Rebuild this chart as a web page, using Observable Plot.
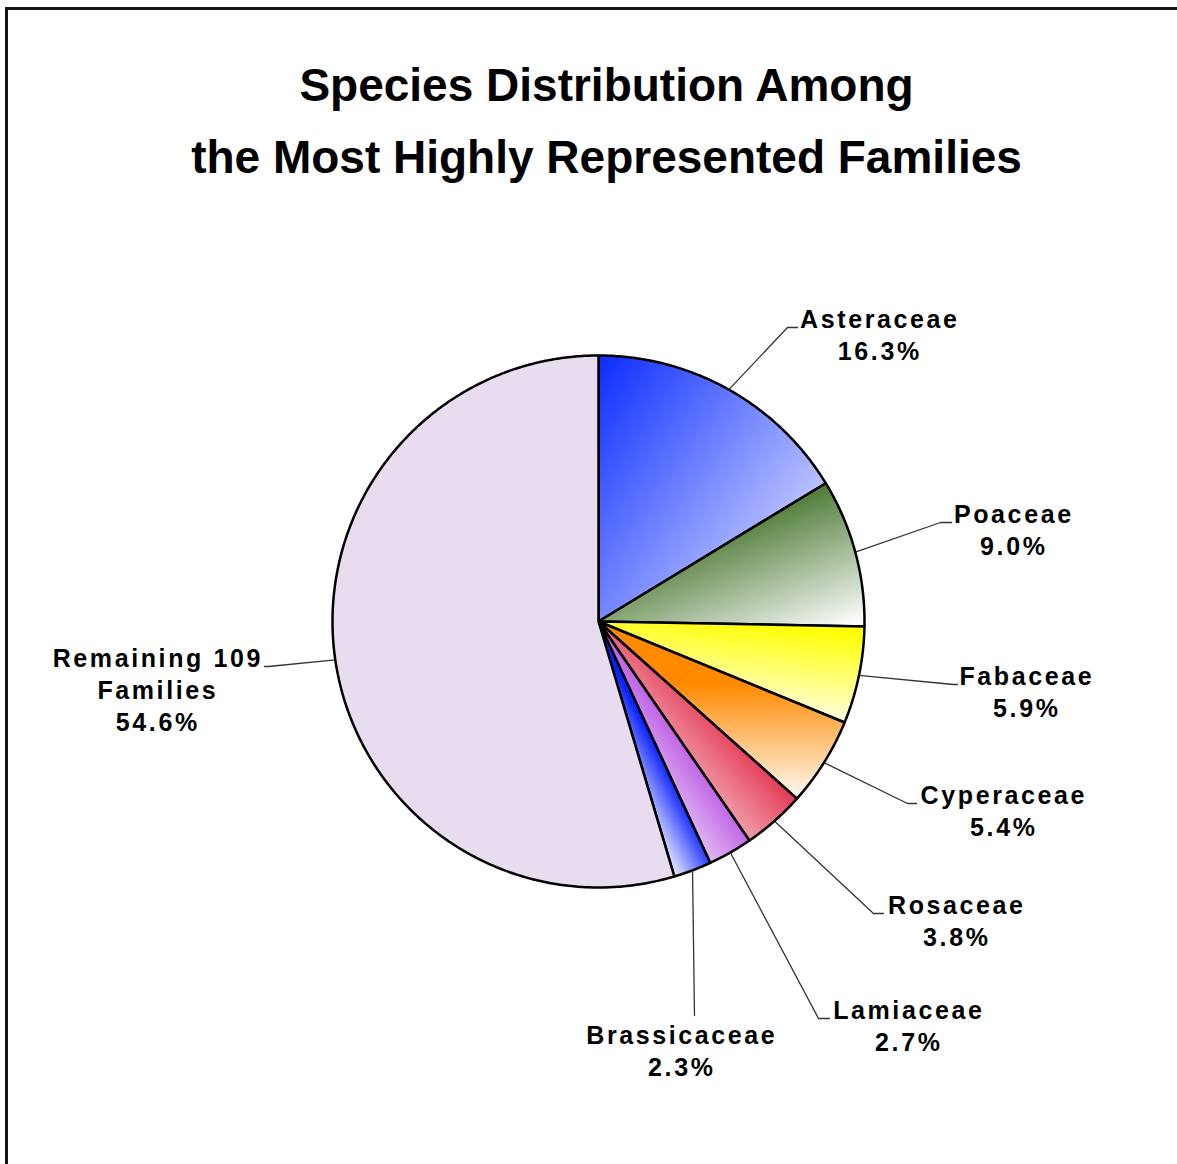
<!DOCTYPE html>
<html>
<head>
<meta charset="utf-8">
<script src="https://cdn.jsdelivr.net/npm/d3@7"></script>
<script src="https://cdn.jsdelivr.net/npm/@observablehq/plot@0.6"></script>
<style>
  html, body { margin: 0; padding: 0; background: #fff; width: 1177px; height: 1164px; overflow: hidden; }
  #frame { position: absolute; left: 5px; top: 7px; width: 1400px; height: 1400px; border: 3px solid #151515; box-sizing: border-box; }
  #title { position: absolute; left: 0; top: 49px; width: 1213px; text-align: center;
           font-family: "Liberation Sans", Arial, sans-serif; font-weight: bold; font-size: 46px;
           line-height: 72px; color: #000; }
  #chart { position: absolute; left: 0; top: 200px; }
</style>
</head>
<body>
<div id="frame"></div>
<div id="title">Species Distribution Among<br>the Most Highly Represented Families</div>
<div id="chart"></div>
<script>
// Plant families and their share of species (%)
const families = ["Asteraceae", "Poaceae", "Fabaceae", "Cyperaceae", "Rosaceae", "Lamiaceae", "Brassicaceae", "Remaining 109\nFamilies"];
const shares = [16.3, 9.0, 5.9, 5.4, 3.8, 2.7, 2.3, 54.6];

// Slice fills: linear gradients (bounding-box units) or a flat colour
const sliceFills = [
  {x1: 0, y1: 0, x2: 1, y2: 0.85, stops: [[0, "#0a2cff"], [1, "#e2e5ff"]]},
  {x1: 0.2, y1: 0, x2: 0.95, y2: 1, stops: [[0.3, "#4a7832"], [1, "#ffffff"]]},
  {x1: 0.8, y1: 0, x2: 0.5, y2: 1, stops: [[0.05, "#ffff00"], [1, "#ffffff"]]},
  {x1: 0, y1: 0.35, x2: 0, y2: 1, stops: [[0, "#ff8a00"], [1, "#fffaf5"]]},
  {x1: 1, y1: 0, x2: 0, y2: 1, stops: [[0.35, "#e0223f"], [0.78, "#fbe6ea"]]},
  {x1: 0.8, y1: 0.2, x2: 0.1, y2: 1, stops: [[0.15, "#a018d8"], [0.8, "#ffffff"]]},
  {x1: 0.9, y1: 0.3, x2: 0.4, y2: 0.9, stops: [[0.5, "#0a20ff"], [0.9, "#ffffff"]]},
  {solid: "#e7ddef"}
];

// Label layout, in pixels relative to the pie centre:
// elbow/end of the leader line, text centre and first baseline
const labelLayout = [
  {ex: 189, ey: -294, fx: 199, tx: 280, ty: -294},
  {ex: 342, ey: -99, fx: 353, tx: 414, ty: -99},
  {ex: 355, ey: 63, fx: 359, tx: 427, ty: 63},
  {ex: 309, ey: 182, fx: 318, tx: 404, ty: 182},
  {ex: 275, ey: 292, fx: 285, tx: 357, ty: 292},
  {ex: 220, ey: 397, fx: 231, tx: 309, ty: 397},
  {ex: 96, ey: 394, fx: 96, tx: 82, ty: 422},
  {ex: -330, ey: 45, fx: -334, tx: -442, ty: 45}
];

const W = 1177, H = 964;     // svg size
const CX = 598, CY = 421;    // pie centre within the svg
const R = 266;               // pie radius
const FS = 25, LH = 32;      // label font size and line step

const fillOf = (i) => sliceFills[i].solid ?? `url(#slice-grad-${i})`;

const pieData = families.map((name, i) => ({name, share: shares[i]}));
const arcs = d3.pie().sort(null).value(d => d.share)(pieData);

// Closed outline of each slice: centre, arc, centre
const slicePoints = arcs.flatMap((a, i) => {
  const n = Math.max(2, Math.ceil((a.endAngle - a.startAngle) / (Math.PI / 360)));
  const pts = [{slice: i, x: 0, y: 0}];
  for (let k = 0; k <= n; ++k) {
    const t = a.startAngle + (a.endAngle - a.startAngle) * k / n;
    pts.push({slice: i, x: R * Math.sin(t), y: -R * Math.cos(t)});
  }
  pts.push({slice: i, x: 0, y: 0});
  return pts.map(p => ({...p, fill: fillOf(i)}));
});

// Leader lines from the middle of each arc to its label
const leaderPoints = arcs.flatMap((a, i) => {
  const mid = (a.startAngle + a.endAngle) / 2;
  const L = labelLayout[i];
  return [
    {slice: i, x: R * Math.sin(mid), y: -R * Math.cos(mid)},
    {slice: i, x: L.ex, y: L.ey},
    {slice: i, x: L.fx, y: L.ey}
  ];
});

const labels = arcs.map((a, i) => {
  const text = `${families[i]}\n${shares[i].toFixed(1)}%`;
  const n = text.split("\n").length;
  return {text, x: labelLayout[i].tx, y: labelLayout[i].ty + (n - 1) * LH};
});

// Gradient definitions for the slices
const gradientDefs = () => {
  const defs = d3.create("svg:defs");
  sliceFills.forEach((g, i) => {
    if (g.solid) return;
    const lg = defs.append("linearGradient")
      .attr("id", `slice-grad-${i}`)
      .attr("x1", g.x1).attr("y1", g.y1).attr("x2", g.x2).attr("y2", g.y2);
    g.stops.forEach(([o, c]) => lg.append("stop").attr("offset", o).attr("stop-color", c));
  });
  return defs.node();
};

const chart = Plot.plot({
  width: W,
  height: H,
  margin: 0,
  x: {domain: [-CX, W - CX], range: [0, W], axis: null},
  y: {domain: [-CY, H - CY], range: [0, H], axis: null},
  color: {type: "identity"},
  style: {background: "transparent", letterSpacing: "2.6px", overflow: "visible"},
  marks: [
    gradientDefs,
    Plot.line(leaderPoints, {x: "x", y: "y", z: "slice", stroke: "#333", strokeWidth: 1.3, curve: "linear"}),
    Plot.line(slicePoints, {
      x: "x", y: "y", z: "slice", fill: "fill",
      stroke: "#000", strokeWidth: 2.5, strokeLinejoin: "round", curve: "linear"
    }),
    Plot.text(labels, {
      x: "x", y: "y", text: "text", dx: 1.3,
      lineAnchor: "bottom", lineHeight: LH / FS,
      fontSize: FS, fontWeight: "bold",
      fontFamily: "Liberation Sans, Arial, sans-serif", fill: "#000"
    })
  ]
});

document.getElementById("chart").appendChild(chart);
</script>
</body>
</html>
